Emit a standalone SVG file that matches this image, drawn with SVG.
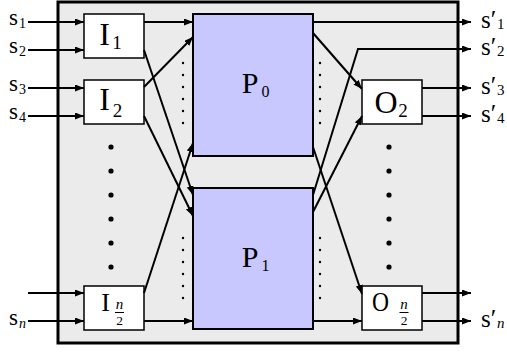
<svg xmlns="http://www.w3.org/2000/svg" width="507" height="352" viewBox="0 0 507 352">
<defs>
<style>
text{font-family:"Liberation Serif","Times New Roman",serif;fill:#000}
.big{font-size:32px}
.sub{font-size:19px}
.in{font-size:23px}
.insub{font-size:14px}
.out{font-size:25px}
.outsub{font-size:15px}
.box{fill:#fff;stroke:#000;stroke-width:1.5}
.proc{fill:#c8c8ff;stroke:#000;stroke-width:2}
.c{fill:none;stroke:#000;stroke-width:2;marker-end:url(#ah)}
.bar{stroke:#000;stroke-width:1}
</style>
<marker id="ah" markerUnits="userSpaceOnUse" markerWidth="10" markerHeight="8" refX="9" refY="3.5" orient="auto">
<path d="M0,0 L9,3.5 L0,7 z" fill="#000"/>
</marker>
</defs>
<rect x="58" y="2" width="400" height="341" fill="#ebebeb" stroke="#000" stroke-width="3"/>

<g id="dots">
<g fill="#000">
<circle cx="111" cy="147" r="2.6"/><circle cx="111" cy="171" r="2.6"/><circle cx="111" cy="195" r="2.6"/>
<circle cx="111" cy="219" r="2.6"/><circle cx="111" cy="243" r="2.6"/><circle cx="111" cy="267" r="2.6"/>
<circle cx="389" cy="147" r="2.6"/><circle cx="389" cy="171" r="2.6"/><circle cx="389" cy="195" r="2.6"/>
<circle cx="389" cy="219" r="2.6"/><circle cx="389" cy="243" r="2.6"/><circle cx="389" cy="267" r="2.6"/>
<circle cx="183" cy="63" r="1.2"/><circle cx="183" cy="75" r="1.2"/><circle cx="183" cy="87" r="1.2"/>
<circle cx="183" cy="99" r="1.2"/><circle cx="183" cy="111" r="1.2"/><circle cx="183" cy="123" r="1.2"/>
<circle cx="183" cy="238" r="1.2"/><circle cx="183" cy="250" r="1.2"/><circle cx="183" cy="262" r="1.2"/>
<circle cx="183" cy="274" r="1.2"/><circle cx="183" cy="286" r="1.2"/><circle cx="183" cy="298" r="1.2"/>
<circle cx="320" cy="63" r="1.2"/><circle cx="320" cy="75" r="1.2"/><circle cx="320" cy="87" r="1.2"/>
<circle cx="320" cy="99" r="1.2"/><circle cx="320" cy="111" r="1.2"/><circle cx="320" cy="123" r="1.2"/>
<circle cx="320" cy="238" r="1.2"/><circle cx="320" cy="250" r="1.2"/><circle cx="320" cy="262" r="1.2"/>
<circle cx="320" cy="274" r="1.2"/><circle cx="320" cy="286" r="1.2"/><circle cx="320" cy="298" r="1.2"/>
</g>
</g>

<g id="I1">
<rect class="box" x="84" y="14" width="60" height="44"/>
<text class="big" x="104.5" y="45" text-anchor="middle">I</text>
<text class="sub" x="117" y="49" text-anchor="middle">1</text>
</g>
<g id="I2">
<rect class="box" x="84" y="80" width="60" height="44"/>
<text class="big" x="104.5" y="110" text-anchor="middle">I</text>
<text class="sub" x="117.5" y="117" text-anchor="middle">2</text>
</g>
<g id="In2">
<rect class="box" x="84" y="286" width="60" height="44"/>
<text x="105.7" y="311" font-size="26" text-anchor="middle">I</text>
<text x="119.5" y="309" font-size="15" font-style="italic" text-anchor="middle">n</text>
<line class="bar" x1="115" y1="312.5" x2="124" y2="312.5"/>
<text x="119.5" y="325" font-size="13.5" text-anchor="middle">2</text>
</g>

<g id="P0">
<rect class="proc" x="193" y="14" width="120" height="142"/>
<text x="250" y="93" font-size="30" text-anchor="middle">P</text>
<text x="265.5" y="97" font-size="16" text-anchor="middle">0</text>
</g>
<g id="P1">
<rect class="proc" x="193" y="188" width="120" height="141"/>
<text x="250" y="267" font-size="30" text-anchor="middle">P</text>
<text x="265.5" y="271" font-size="16" text-anchor="middle">1</text>
</g>

<g id="O2">
<rect class="box" x="362" y="80" width="60" height="44"/>
<text class="big" x="386" y="113" text-anchor="middle">O</text>
<text class="sub" x="403" y="117" text-anchor="middle">2</text>
</g>
<g id="On2">
<rect class="box" x="362" y="286" width="60" height="44"/>
<text x="372" y="311" font-size="28" textLength="17" lengthAdjust="spacingAndGlyphs">O</text>
<text x="404" y="309" font-size="15" font-style="italic" text-anchor="middle">n</text>
<line class="bar" x1="399.5" y1="312.5" x2="408.5" y2="312.5"/>
<text x="404" y="325" font-size="13.5" text-anchor="middle">2</text>
</g>

<g id="connectors">
<path class="c" d="M28,22 H84"/>
<path class="c" d="M28,50 H84"/>
<path class="c" d="M28,88 H84"/>
<path class="c" d="M28,116 H84"/>
<path class="c" d="M28,293 H84"/>
<path class="c" d="M28,321 H84"/>
<path class="c" d="M144,22 H193"/>
<path class="c" d="M144,50 L193,195"/>
<path class="c" d="M144,87 L193,37"/>
<path class="c" d="M144,116 L193,216"/>
<path class="c" d="M144,293 L193,143"/>
<path class="c" d="M144,321 H193"/>
<path class="c" d="M313,22 H471"/>
<path class="c" d="M313,33 L362,89"/>
<path class="c" d="M313,195 L358,49 H471"/>
<path class="c" d="M313,212 L362,116"/>
<path class="c" d="M313,147 L362,294"/>
<path class="c" d="M313,321 H362"/>
<path class="c" d="M422,88 H471"/>
<path class="c" d="M422,116 H471"/>
<path class="c" d="M422,293 H471"/>
<path class="c" d="M422,321 H471"/>
</g>

<g id="labels">
<text class="in" x="9" y="25">s</text><text class="insub" x="19" y="28">1</text>
<text class="in" x="9" y="53">s</text><text class="insub" x="19" y="56">2</text>
<text class="in" x="9" y="91">s</text><text class="insub" x="19" y="94">3</text>
<text class="in" x="9" y="119">s</text><text class="insub" x="19" y="122">4</text>
<text class="in" x="9" y="325">s</text><text class="insub" x="19" y="328" font-style="italic">n</text>
<text class="out" x="481" y="28">s′</text><text class="outsub" x="497" y="29">1</text>
<text class="out" x="481" y="55">s′</text><text class="outsub" x="497" y="56">2</text>
<text class="out" x="481" y="94">s′</text><text class="outsub" x="497" y="95">3</text>
<text class="out" x="481" y="122">s′</text><text class="outsub" x="497" y="123">4</text>
<text class="out" x="481" y="327">s′</text><text class="outsub" x="497" y="328" font-style="italic">n</text>
</g>
</svg>
